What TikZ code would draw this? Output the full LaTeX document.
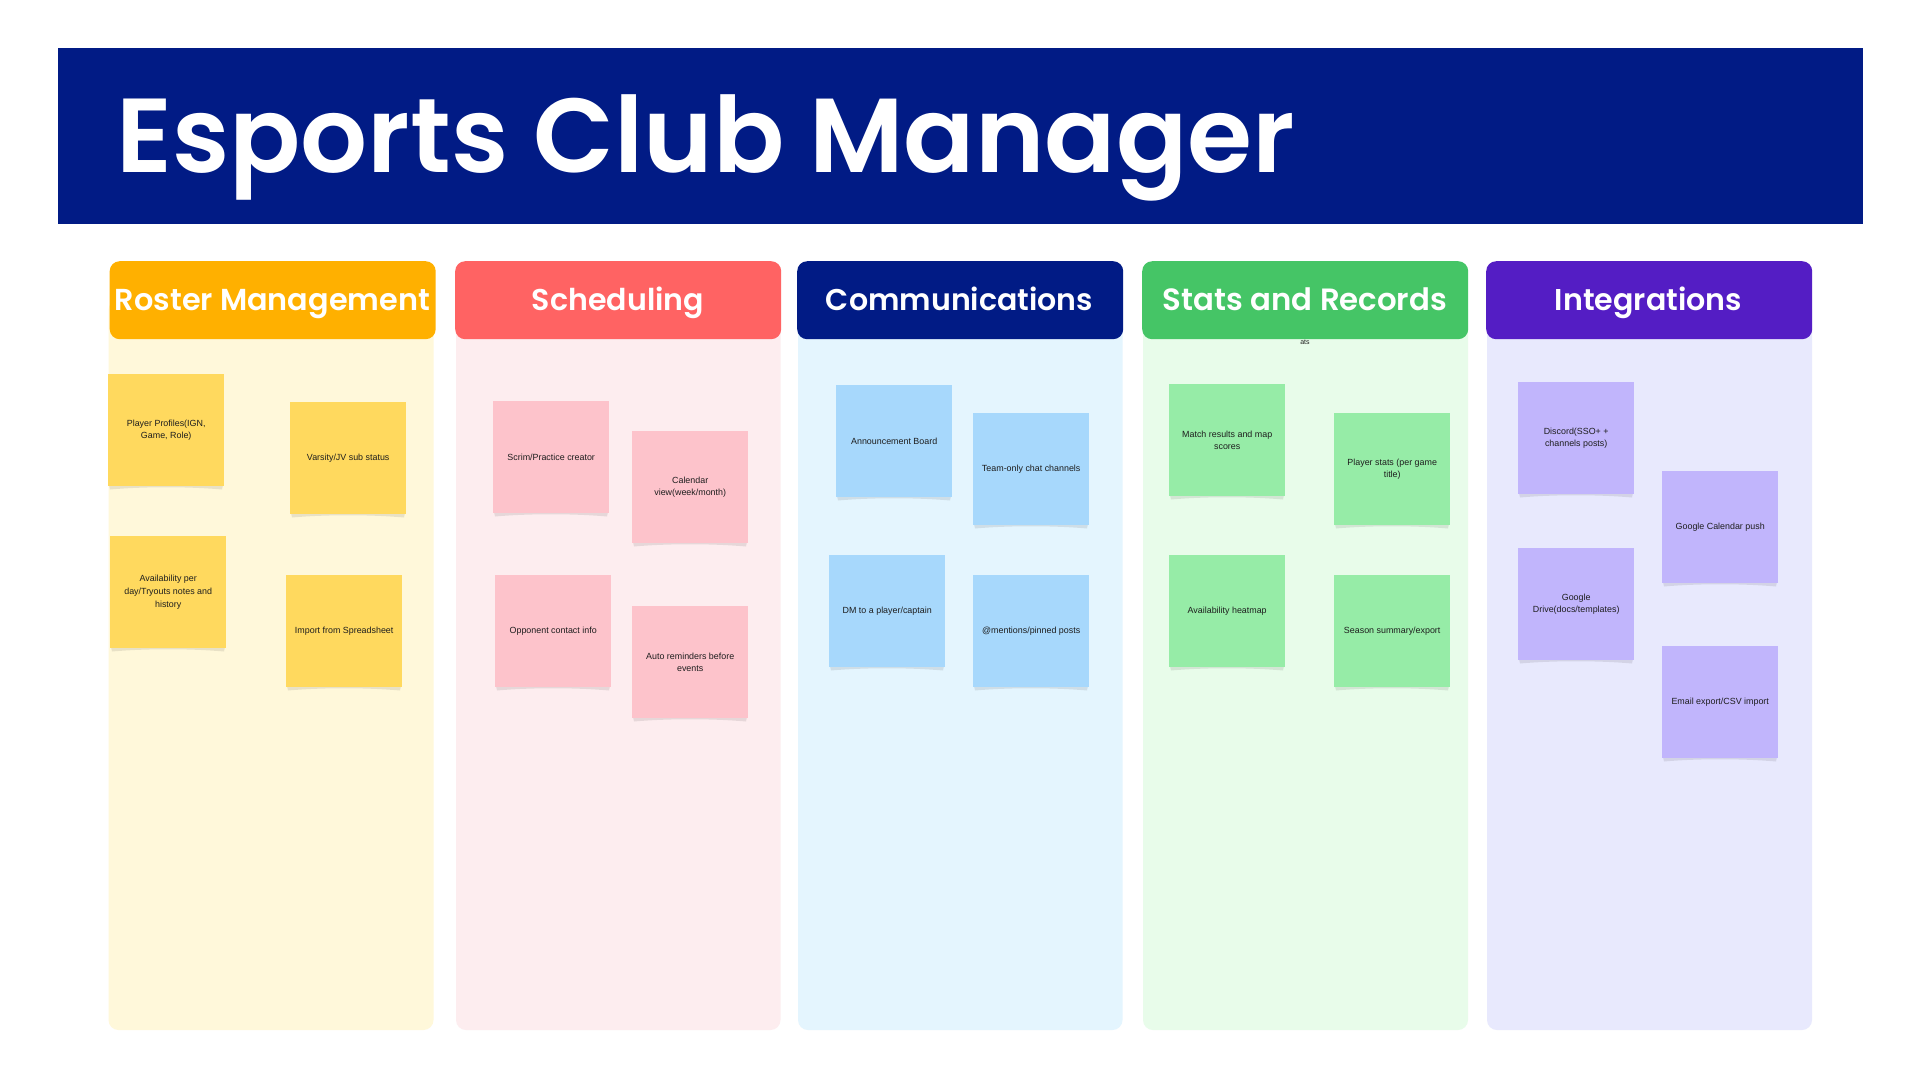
\documentclass[tikz,border=0pt]{standalone}
\usepackage{fontspec}
\usepackage{graphicx}
\setmainfont{Liberation Sans}
\newfontfamily\headfont{Poppins}[BoldFont={Poppins SemiBold}]
\newfontfamily\notefont{Liberation Sans}

\definecolor{navy}{HTML}{011B85}
\definecolor{hdorange}{HTML}{FFB000}
\definecolor{hdcoral}{HTML}{FF6363}
\definecolor{hdgreen}{HTML}{45C566}
\definecolor{hdpurple}{HTML}{541DC4}
\definecolor{bgyellow}{HTML}{FFF8DA}
\definecolor{bgpink}{HTML}{FDEDEF}
\definecolor{bgblue}{HTML}{E4F5FE}
\definecolor{bggreen}{HTML}{E8FCEA}
\definecolor{bglav}{HTML}{E8E9FD}
\definecolor{styellow}{HTML}{FFD95E}
\definecolor{stpink}{HTML}{FDC3CB}
\definecolor{stblue}{HTML}{A7D8FC}
\definecolor{stgreen}{HTML}{96ECA7}
\definecolor{stpurple}{HTML}{C1B5FC}
\definecolor{notetext}{HTML}{1E1E1E}

\tikzset{
  note/.style={anchor=north west, minimum width=116pt, minimum height=112pt,
    inner sep=0pt, align=center, text=notetext,
    font=\notefont\fontsize{8.9}{12.7}\selectfont},
  colhead/.style={anchor=north west, minimum width=326pt, minimum height=78pt,
    inner sep=0pt, rounded corners=10pt},
  headtext/.style={anchor=base, inner sep=0pt, text=white},
}

% sticky note with its curled shadow: name, left, top, colour, text
\newcommand\stickynote[5]{%
  \fill[black,opacity=0.09] ({#2+1},{#3+111}) -- ({#2+115},{#3+111})
    -- ({#2+114},{#3+115.5}) .. controls ({#2+80},{#3+112.5}) and ({#2+36},{#3+112.5}) .. ({#2+2},{#3+115.5}) -- cycle;
  \node[note, fill=#4] (#1) at (#2,#3) {#5};%
}

\begin{document}
\begin{tikzpicture}[x=1pt,y=-1pt]
\useasboundingbox (0,0) rectangle (1920,1080);
\fill[white] (0,0) rectangle (1920,1080);

% title banner
\fill[navy] (57.5,47.8) rectangle (1862.5,224);
\node[anchor=base west, inner sep=0pt, text=white] (title) at (116,172.7)
  {\resizebox{1178pt}{!}{\headfont\bfseries Esports Club Manager}};

% column bodies
\fill[bgyellow, rounded corners=10pt] (108.5,300) rectangle (433.5,1030);
\fill[bgpink,   rounded corners=10pt] (456,300) rectangle (780.5,1030);
\fill[bgblue,   rounded corners=10pt] (798,300) rectangle (1122.5,1030);
\fill[bggreen,  rounded corners=10pt] (1143,300) rectangle (1468,1030);
\fill[bglav,    rounded corners=10pt] (1487,300) rectangle (1812,1030);

% column headers
\node[colhead, fill=hdorange] (h1) at (109.5,261) {};
\node[colhead, fill=hdcoral]  (h2) at (455,261) {};
\node[colhead, fill=navy]     (h3) at (797,261) {};
\node[colhead, fill=hdgreen]  (h4) at (1142,261) {};
\node[colhead, fill=hdpurple] (h5) at (1486,261) {};

\node[headtext] (t1) at (272.5,310.7) {\resizebox{315pt}{!}{\headfont\bfseries Roster Management}};
\node[headtext] (t2) at (618,310.7) {\resizebox{172pt}{!}{\headfont\bfseries Scheduling}};
\node[headtext] (t3) at (959.5,310.7) {\resizebox{267pt}{!}{\headfont\bfseries Communications}};
\node[headtext] (t4) at (1305,310.7) {\resizebox{284pt}{!}{\headfont\bfseries Stats and Records}};
\node[headtext] (t5) at (1648.5,310.7) {\resizebox{187pt}{!}{\headfont\bfseries Integrations}};

\node[inner sep=0pt, text=notetext, font=\notefont\fontsize{7}{8}\selectfont] (ats) at (1305,342) {ats};

% Roster Management
\stickynote{r1}{108}{374}{styellow}{Player Profiles(IGN,\\Game, Role)}
\stickynote{r2}{290}{402}{styellow}{Varsity/JV sub status}
\stickynote{r3}{110}{536}{styellow}{Availability per\\day/Tryouts notes and\\history}
\stickynote{r4}{286}{575}{styellow}{Import from Spreadsheet}

% Scheduling
\stickynote{s1}{493}{401}{stpink}{Scrim/Practice creator}
\stickynote{s2}{632}{431}{stpink}{Calendar\\view(week/month)}
\stickynote{s3}{495}{575}{stpink}{Opponent contact info}
\stickynote{s4}{632}{606}{stpink}{Auto reminders before\\events}

% Communications
\stickynote{c1}{836}{385}{stblue}{Announcement Board}
\stickynote{c2}{973}{413}{stblue}{Team-only chat channels}
\stickynote{c3}{829}{555}{stblue}{DM to a player/captain}
\stickynote{c4}{973}{575}{stblue}{@mentions/pinned posts}

% Stats and Records
\stickynote{k1}{1169}{384}{stgreen}{Match results and map\\scores}
\stickynote{k2}{1334}{413}{stgreen}{Player stats (per game\\title)}
\stickynote{k3}{1169}{555}{stgreen}{Availability heatmap}
\stickynote{k4}{1334}{575}{stgreen}{Season summary/export}

% Integrations
\stickynote{i1}{1518}{382}{stpurple}{Discord(SSO+ +\\channels posts)}
\stickynote{i2}{1662}{471}{stpurple}{Google Calendar push}
\stickynote{i3}{1518}{548}{stpurple}{Google\\Drive(docs/templates)}
\stickynote{i4}{1662}{646}{stpurple}{Email export/CSV import}
\end{tikzpicture}
\end{document}
